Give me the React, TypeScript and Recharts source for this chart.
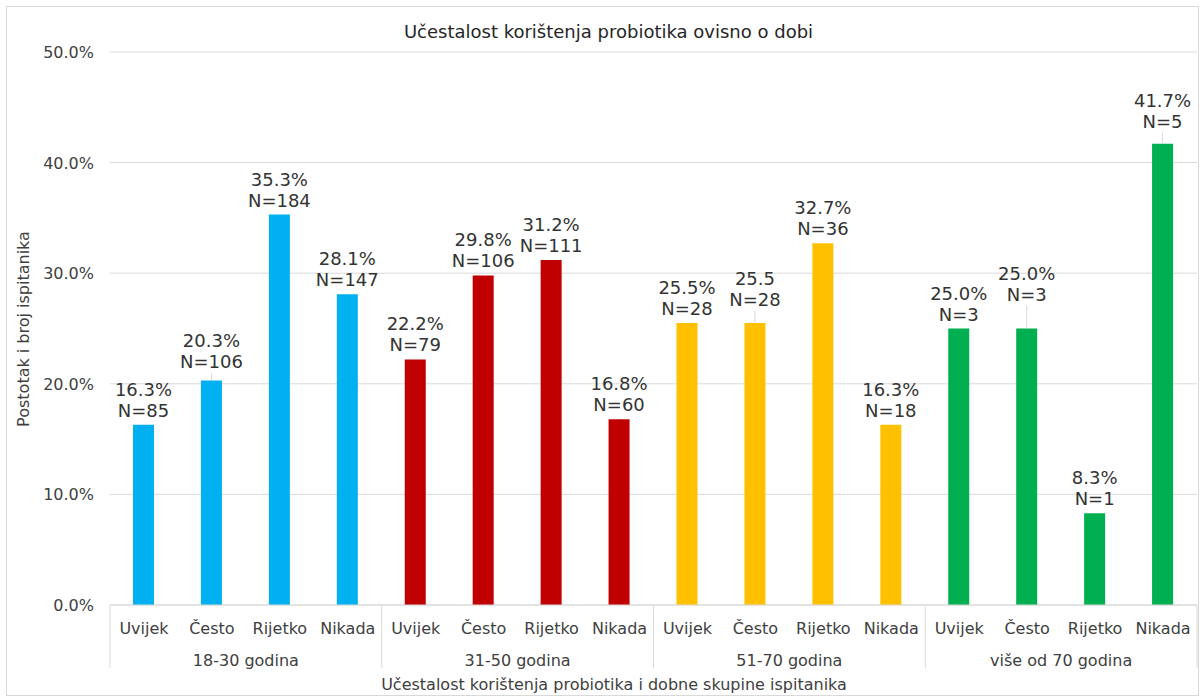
import React from 'react';
import { BarChart, Bar, XAxis, YAxis, CartesianGrid, Cell, LabelList } from 'recharts';

const groups = ['18-30 godina', '31-50 godina', '51-70 godina', 'više od 70 godina'];
const frequencies = ['Uvijek', 'Često', 'Rijetko', 'Nikada'];
const percents = [16.3, 20.3, 35.3, 28.1, 22.2, 29.8, 31.2, 16.8, 25.5, 25.5, 32.7, 16.3, 25.0, 25.0, 8.3, 41.7];
const counts = [85, 106, 184, 147, 79, 106, 111, 60, 28, 28, 36, 18, 3, 3, 1, 5];
const percentLabels = [
  '16.3%', '20.3%', '35.3%', '28.1%',
  '22.2%', '29.8%', '31.2%', '16.8%',
  '25.5%', '25.5', '32.7%', '16.3%',
  '25.0%', '25.0%', '8.3%', '41.7%',
];
const yTicks = [0, 10, 20, 30, 40, 50];
const groupColors = ['#00B0F0', '#C00000', '#FFC000', '#00B050'];

const data = percents.map((p, i) => ({
  key: `${i}`,
  cat: frequencies[i % 4],
  group: groups[Math.floor(i / 4)],
  pct: p,
  n: counts[i],
  label: percentLabels[i],
}));

const W = 1203;
const H = 698;
const PLOT_LEFT = 110;
const PLOT_RIGHT = 1197;
const PLOT_BOTTOM = 605;
const BAND = (PLOT_RIGHT - PLOT_LEFT) / data.length;
const FONT = '"DejaVu Sans", Verdana, sans-serif';
const TEXT = '#404040';
const GRID = '#d9d9d9';

// labels that Excel nudged up (with a leader line)
const labelLift: Record<number, number> = { 1: 4, 9: 9, 13: 20, 15: 8 };

const CategoryTick = (props: any) => {
  const { x, payload, index } = props;
  const last = index === data.length - 1;
  return (
    <g>
      <text x={x} y={PLOT_BOTTOM + 29} textAnchor="middle" fontSize={16} fill={TEXT} fontFamily={FONT}>
        {payload.value}
      </text>
      {index % 4 === 0 && (
        <line x1={x - BAND / 2} x2={x - BAND / 2} y1={PLOT_BOTTOM} y2={PLOT_BOTTOM + 63} stroke={GRID} />
      )}
      {last && (
        <line x1={x + BAND / 2} x2={x + BAND / 2} y1={PLOT_BOTTOM} y2={PLOT_BOTTOM + 63} stroke={GRID} />
      )}
      {index % 4 === 1 && (
        <text x={x + BAND / 2} y={PLOT_BOTTOM + 61} textAnchor="middle" fontSize={16} fill={TEXT} fontFamily={FONT}>
          {data[index].group}
        </text>
      )}
    </g>
  );
};

const YTick = (props: any) => {
  const { x, y, payload } = props;
  return (
    <text x={x - 8} y={y + 6} textAnchor="end" fontSize={16} fill={TEXT} fontFamily={FONT}>
      {`${Number(payload.value).toFixed(1)}%`}
    </text>
  );
};

const ValueLabel = (props: any) => {
  const { x, y, width, index } = props;
  const cx = x + width / 2;
  const lift = labelLift[index] || 0;
  const base = y - 14 - lift;
  return (
    <g>
      {lift > 0 && <line x1={cx} x2={cx} y1={y} y2={y - lift - 3} stroke={GRID} />}
      <text x={cx} y={base - 21 + 6} textAnchor="middle" fontSize={18} fill="#333" fontFamily={FONT}>
        {data[index].label}
      </text>
      <text x={cx} y={base + 6} textAnchor="middle" fontSize={18} fill="#333" fontFamily={FONT}>
        {`N=${data[index].n}`}
      </text>
    </g>
  );
};

export default function App() {
  return (
    <div style={{ position: 'absolute', left: 0, top: 0, width: W, height: H, background: '#fff', fontFamily: FONT }}>
      <div
        style={{
          position: 'absolute', left: 6, top: 6, width: 1193, height: 690,
          border: '1px solid #d9d9d9', boxSizing: 'border-box',
        }}
      />
      <BarChart width={W} height={H} data={data} margin={{ top: 52, right: W - PLOT_RIGHT, bottom: 31, left: 10 }}>
        <CartesianGrid vertical={false} stroke={GRID} />
        <XAxis
          dataKey="key"
          interval={0}
          height={62}
          axisLine={{ stroke: GRID }}
          tickLine={false}
          tick={(p: any) => <CategoryTick {...p} payload={{ value: data[p.index].cat }} />}
        />
        <YAxis
          width={100}
          domain={[0, 50]}
          ticks={yTicks}
          axisLine={false}
          tickLine={false}
          tick={<YTick />}
        />
        <Bar dataKey="pct" barSize={21} isAnimationActive={false}>
          {data.map((d, i) => (
            <Cell key={d.key} fill={groupColors[Math.floor(i / 4)]} />
          ))}
          <LabelList dataKey="n" content={<ValueLabel />} />
        </Bar>
      </BarChart>
      <div style={{ position: 'absolute', left: 0, width: W + 14, top: 21, textAlign: 'center', fontSize: 18, color: '#262626' }}>
        Učestalost korištenja probiotika ovisno o dobi
      </div>
      <div style={{ position: 'absolute', left: 0, width: 1228, top: 675, textAlign: 'center', fontSize: 16, color: TEXT }}>
        Učestalost korištenja probiotika i dobne skupine ispitanika
      </div>
      <div
        style={{
          position: 'absolute', left: 23, top: 329, fontSize: 16, color: TEXT, whiteSpace: 'nowrap',
          transform: 'translate(-50%, -50%) rotate(-90deg)',
        }}
      >
        Postotak i broj ispitanika
      </div>
    </div>
  );
}
